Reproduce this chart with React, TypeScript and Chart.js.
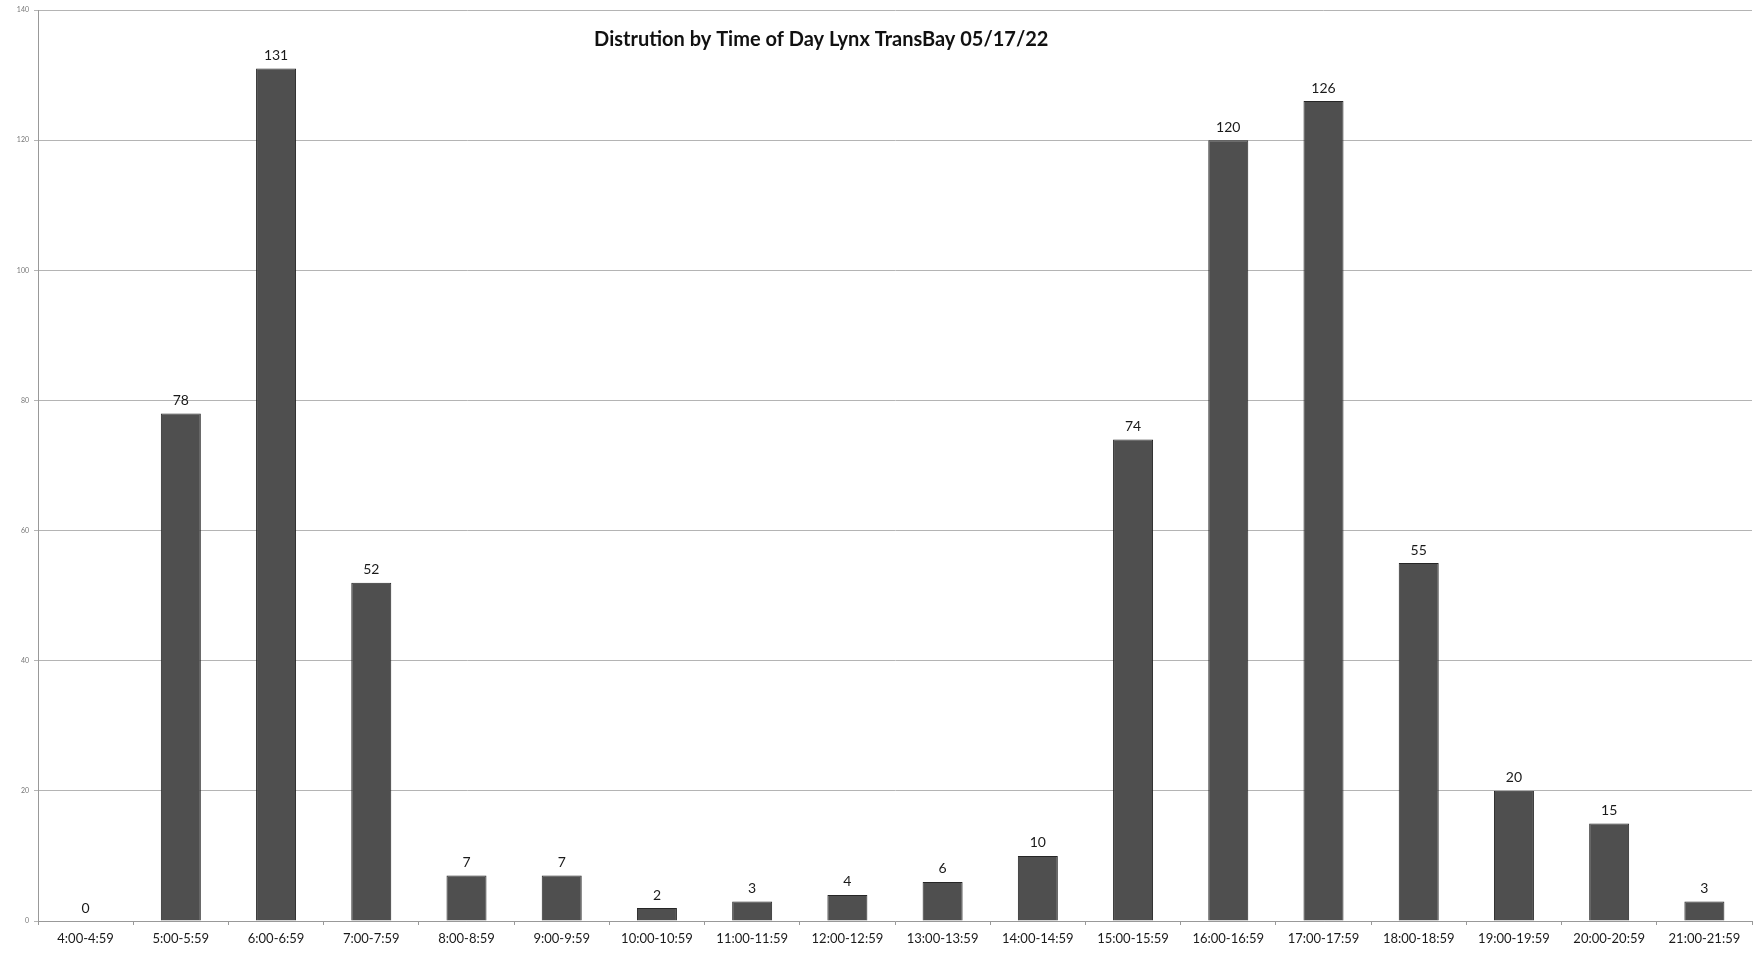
import React, { useEffect, useRef } from "react";
import { Chart, registerables } from "chart.js";

Chart.register(...registerables);

const TITLE = "Distrution by Time of Day Lynx TransBay 05/17/22";

const timeSlots = [
  "4:00-4:59", "5:00-5:59", "6:00-6:59", "7:00-7:59", "8:00-8:59", "9:00-9:59",
  "10:00-10:59", "11:00-11:59", "12:00-12:59", "13:00-13:59", "14:00-14:59",
  "15:00-15:59", "16:00-16:59", "17:00-17:59", "18:00-18:59", "19:00-19:59",
  "20:00-20:59", "21:00-21:59",
];

const riders = [0, 78, 131, 52, 7, 7, 2, 3, 4, 6, 10, 74, 120, 126, 55, 20, 15, 3];

const yTicks = [0, 20, 40, 60, 80, 100, 120, 140];

const FONT = "Lato, 'Open Sans', sans-serif";

// Value labels above each bar
const valueLabels = {
  id: "valueLabels",
  afterDatasetsDraw(chart: any) {
    const { ctx } = chart;
    const meta = chart.getDatasetMeta(0);
    ctx.save();
    ctx.font = `14px ${FONT}`;
    ctx.fillStyle = "#1a1a1a";
    ctx.textAlign = "center";
    ctx.textBaseline = "bottom";
    meta.data.forEach((bar: any, i: number) => {
      ctx.fillText(String(riders[i]), bar.x, bar.y - 6);
    });
    ctx.restore();
  },
};

// Title sits inside the plot, left of centre
const innerTitle = {
  id: "innerTitle",
  afterDraw(chart: any) {
    const { ctx, chartArea } = chart;
    ctx.save();
    ctx.font = `bold 20px ${FONT}`;
    ctx.fillStyle = "#111";
    ctx.textAlign = "center";
    ctx.textBaseline = "middle";
    const cx = chartArea.left + (chartArea.right - chartArea.left) * 0.457;
    ctx.fillText(TITLE, cx, chartArea.top + 30);
    ctx.restore();
  },
};

export default function App() {
  const canvasRef = useRef<HTMLCanvasElement | null>(null);

  useEffect(() => {
    if (!canvasRef.current) return;
    const chart = new Chart(canvasRef.current, {
      type: "bar",
      data: {
        labels: timeSlots,
        datasets: [
          {
            data: riders,
            backgroundColor: "#4f4f4f",
            borderColor: "#262626",
            borderWidth: 1,
            categoryPercentage: 1,
            barPercentage: 0.42,
          },
        ],
      },
      options: {
        animation: false,
        responsive: false,
        maintainAspectRatio: false,
        layout: { padding: { top: 10, right: 11, left: 0, bottom: 0 } },
        plugins: {
          legend: { display: false },
          title: { display: false },
          tooltip: { enabled: false },
        },
        scales: {
          x: {
            grid: {
              display: true,
              drawOnChartArea: false,
              drawTicks: true,
              tickLength: 4,
              color: "#999",
              offset: true,
            },
            border: { display: true, color: "#999", width: 1 },
            ticks: {
              font: { family: FONT, size: 13 },
              color: "#1a1a1a",
              padding: 6,
              maxRotation: 0,
              autoSkip: false,
            },
            afterFit(scale: any) {
              scale.height = 35;
            },
          },
          y: {
            min: 0,
            max: 140,
            afterBuildTicks(scale: any) {
              scale.ticks = yTicks.map((v) => ({ value: v }));
            },
            grid: {
              color: "#b4b4b4",
              lineWidth: 1,
              drawTicks: true,
              tickLength: 4,
            },
            border: { display: true, color: "#999", width: 1 },
            ticks: {
              font: { family: FONT, size: 7 },
              color: "#777",
              padding: 5,
            },
            afterFit(scale: any) {
              scale.width = 38;
            },
          },
        },
      },
      plugins: [valueLabels, innerTitle],
    });
    return () => chart.destroy();
  }, []);

  return (
    <div style={{ position: "fixed", left: 0, top: 0, width: 1763, height: 956, background: "#fff" }}>
      <canvas ref={canvasRef} width={1763} height={956} style={{ width: 1763, height: 956 }} />
    </div>
  );
}
